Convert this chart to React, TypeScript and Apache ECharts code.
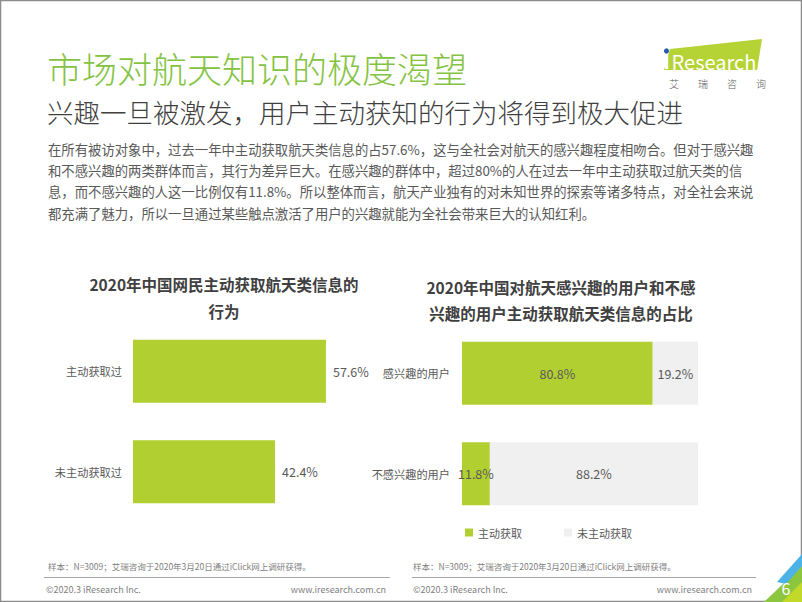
import React, { useEffect, useRef } from "react";
import * as echarts from "echarts";

const leftCategories = ["主动获取过", "未主动获取过"];
const leftValues = [57.6, 42.4];

const rightCategories = ["感兴趣的用户", "不感兴趣的用户"];
const rightActive = [80.8, 11.8];
const rightInactive = [19.2, 88.2];
const rightSeriesNames = ["主动获取", "未主动获取"];

const pageTitle = "市场对航天知识的极度渴望";
const pageSubtitle = "兴趣一旦被激发，用户主动获知的行为将得到极大促进";
const paragraphLines = [
  "在所有被访对象中，过去一年中主动获取航天类信息的占57.6%，这与全社会对航天的感兴趣程度相吻合。但对于感兴趣",
  "和不感兴趣的两类群体而言，其行为差异巨大。在感兴趣的群体中，超过80%的人在过去一年中主动获取过航天类的信",
  "息，而不感兴趣的人这一比例仅有11.8%。所以整体而言，航天产业独有的对未知世界的探索等诸多特点，对全社会来说",
  "都充满了魅力，所以一旦通过某些触点激活了用户的兴趣就能为全社会带来巨大的认知红利。",
];
const leftTitleLines = ["2020年中国网民主动获取航天类信息的", "行为"];
const rightTitleLines = ["2020年中国对航天感兴趣的用户和不感", "兴趣的用户主动获取航天类信息的占比"];
const footnote = "样本：N=3009；艾瑞咨询于2020年3月20日通过iClick网上调研获得。";
const copyright = "©2020.3 iResearch Inc.";
const website = "www.iresearch.com.cn";
const pageNumber = "6";
const logoChars = ["艾", "瑞", "咨", "询"];

const FONT = '"Noto Sans CJK SC", "Noto Sans", sans-serif';
const GREEN = "#b2cf32";
const GRAY_BAR = "#f0f0f0";
const TEXT = "#595959";

function txt(text: string, x: number, y: number, size: number, fill: string, opts: any = {}) {
  const align = opts.align || "left";
  return {
    type: "text",
    x,
    y,
    silent: true,
    style: {
      text,
      fontSize: size,
      fontFamily: FONT,
      fontWeight: opts.weight || "normal",
      fill,
      align,
      textAlign: align,
      verticalAlign: "middle",
      textVerticalAlign: "middle",
    },
  };
}

export default function App() {
  const ref = useRef<HTMLDivElement>(null);
  useEffect(() => {
    document.body.style.margin = "0";
    const chart = echarts.init(ref.current!, null, { renderer: "svg" });
    const graphics: any[] = [
      {
        type: "rect",
        shape: { x: 0.5, y: 0.5, width: 801, height: 601 },
        style: { fill: "none", stroke: "#8c8c8c", lineWidth: 1.5 },
        silent: true,
      },
      txt(pageTitle, 47, 67, 35, "#84c341", { weight: 300 }),
      txt(pageSubtitle, 47, 111, 26.5, "#404040", { weight: 300 }),
      ...paragraphLines.map((l, i) => txt(l, 48, 149 + i * 21.4, 13.35, TEXT)),
      ...leftTitleLines.map((l, i) => txt(l, 224, 284 + i * 27, 15.5, "#404040", { align: "center", weight: "bold" })),
      ...rightTitleLines.map((l, i) => txt(l, 561, 287 + i * 26, 15.5, "#404040", { align: "center", weight: "bold" })),
      // footers
      txt(footnote, 48, 566, 8.5, "#808080"),
      txt(footnote, 413, 566, 8.5, "#808080"),
      { type: "line", shape: { x1: 44, y1: 577.5, x2: 390, y2: 577.5 }, style: { stroke: "#a6a6a6", lineWidth: 1 }, silent: true },
      { type: "line", shape: { x1: 412, y1: 577.5, x2: 756, y2: 577.5 }, style: { stroke: "#a6a6a6", lineWidth: 1 }, silent: true },
      txt(copyright, 46, 589, 9, "#808080"),
      txt(website, 386, 589, 9, "#808080", { align: "right" }),
      txt(copyright, 413, 589, 9, "#808080"),
      txt(website, 752, 589, 9, "#808080", { align: "right" }),
      // corner decoration
      { type: "polygon", shape: { points: [[764, 602], [802, 566], [802, 602]] }, style: { fill: "#8cc63e" }, silent: true },
      { type: "polygon", shape: { points: [[782, 602], [802, 582], [802, 602]] }, style: { fill: "#c2d92a" }, silent: true },
      { type: "polygon", shape: { points: [[777, 582], [802, 554], [802, 566], [786, 584]] }, style: { fill: "#4db3e6" }, silent: true },
      txt(pageNumber, 786, 588, 16, "#ffffff", { align: "center" }),
      // logo
      { type: "polygon", shape: { points: [[670, 49], [762, 39], [757, 70], [664, 70]] }, style: { fill: "#b5d334" }, silent: true },
      { type: "circle", shape: { cx: 666.5, cy: 51, r: 2.6 }, style: { fill: "#2a5db0" }, silent: true },
      { type: "rect", shape: { x: 665, y: 56, width: 3.2, height: 13 }, style: { fill: "#ffffff" }, silent: true },
      txt("Research", 714, 61, 20, "#ffffff", { align: "center" }),
      ...logoChars.map((c, i) => txt(c, 674 + i * 29, 83, 10, TEXT, { align: "center", weight: 300 })),
    ];

    chart.setOption({
      animation: false,
      backgroundColor: "#ffffff",
      textStyle: { fontFamily: FONT },
      legend: {
        data: rightSeriesNames,
        left: 460,
        top: 522,
        itemWidth: 8,
        itemHeight: 8,
        itemGap: 42,
        icon: "rect",
        textStyle: { fontSize: 11, color: TEXT, fontFamily: FONT },
        selectedMode: false,
      },
      grid: [
        { left: 133, top: 321, width: 335, height: 201, containLabel: false },
        { left: 462, top: 323, width: 236, height: 201, containLabel: false },
      ],
      xAxis: [
        { type: "value", gridIndex: 0, min: 0, max: 100, show: false },
        { type: "value", gridIndex: 1, min: 0, max: 100, show: false },
      ],
      yAxis: [
        {
          type: "category",
          gridIndex: 0,
          data: leftCategories,
          inverse: true,
          axisLine: { show: false },
          axisTick: { show: false },
          axisLabel: { fontSize: 11.2, color: TEXT, margin: 11, fontFamily: FONT },
        },
        {
          type: "category",
          gridIndex: 1,
          data: rightCategories,
          inverse: true,
          axisLine: { show: false },
          axisTick: { show: false },
          axisLabel: { fontSize: 11.2, color: TEXT, margin: 12, fontFamily: FONT },
        },
      ],
      series: [
        {
          type: "bar",
          xAxisIndex: 0,
          yAxisIndex: 0,
          data: leftValues,
          barWidth: 63,
          itemStyle: { color: GREEN },
          label: { show: true, position: "right", distance: 7, formatter: "{c}%", fontSize: 12.5, color: TEXT, fontFamily: FONT },
        },
        {
          name: rightSeriesNames[0],
          type: "bar",
          stack: "r",
          xAxisIndex: 1,
          yAxisIndex: 1,
          data: rightActive,
          barWidth: 63,
          itemStyle: { color: GREEN },
          label: { show: true, position: "inside", formatter: "{c}%", fontSize: 12.5, color: TEXT, fontFamily: FONT },
        },
        {
          name: rightSeriesNames[1],
          type: "bar",
          stack: "r",
          xAxisIndex: 1,
          yAxisIndex: 1,
          data: rightInactive,
          barWidth: 63,
          itemStyle: { color: GRAY_BAR },
          label: { show: true, position: "inside", formatter: "{c}%", fontSize: 12.5, color: TEXT, fontFamily: FONT },
        },
      ],
      graphic: { elements: graphics },
    });
    return () => chart.dispose();
  }, []);
  return <div ref={ref} style={{ position: "fixed", left: 0, top: 0, width: 802, height: 602 }} />;
}
